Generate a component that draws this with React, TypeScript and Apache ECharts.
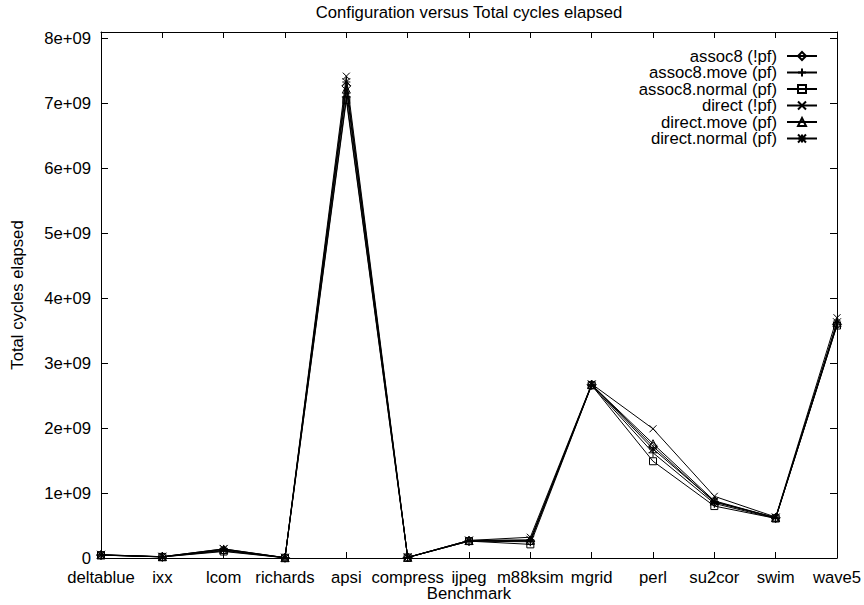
import React, { useEffect, useRef } from "react";
import * as echarts from "echarts";

const categories = ["deltablue", "ixx", "lcom", "richards", "apsi", "compress", "ijpeg", "m88ksim", "mgrid", "perl", "su2cor", "swim", "wave5"];

const seriesNames = ["assoc8 (!pf)", "assoc8.move (pf)", "assoc8.normal (pf)", "direct (!pf)", "direct.move (pf)", "direct.normal (pf)"];

// values in units of 1e9 cycles
const assoc8NoPf = [0.045, 0.018, 0.12, 0.004, 7.27, 0.008, 0.26, 0.26, 2.67, 1.72, 0.86, 0.62, 3.60];
const assoc8Move = [0.045, 0.017, 0.11, 0.004, 7.10, 0.008, 0.26, 0.25, 2.66, 1.62, 0.84, 0.61, 3.59];
const assoc8Normal = [0.044, 0.017, 0.10, 0.004, 7.05, 0.008, 0.26, 0.21, 2.66, 1.49, 0.80, 0.61, 3.58];
const directNoPf = [0.05, 0.02, 0.14, 0.005, 7.42, 0.01, 0.27, 0.32, 2.68, 1.99, 0.95, 0.63, 3.70];
const directMove = [0.048, 0.019, 0.13, 0.005, 7.22, 0.009, 0.27, 0.27, 2.67, 1.76, 0.88, 0.62, 3.62];
const directNormal = [0.05, 0.02, 0.14, 0.005, 7.33, 0.01, 0.27, 0.28, 2.67, 1.68, 0.87, 0.62, 3.63];

const yTickStep = 1e9;
const yMax = 8.1e9;

const FONT = "Liberation Sans, Arial, Helvetica, sans-serif";
const FS = 16.7;

const symbols = [
  { symbol: "diamond", size: 9 },
  { symbol: "path://M5,0L5,10M0,5L10,5", size: 9 },
  { symbol: "rect", size: 7 },
  { symbol: "path://M0,0L10,10M10,0L0,10", size: 7 },
  { symbol: "triangle", size: 8 },
  { symbol: "path://M5,0L5,10M0,5L10,5M0,0L10,10M10,0L0,10", size: 8 },
];

export default function App() {
  const ref = useRef<HTMLDivElement>(null);
  useEffect(() => {
    if (!ref.current) return;
    const chart = echarts.init(ref.current, null, { renderer: "svg" });
    const allValues = [assoc8NoPf, assoc8Move, assoc8Normal, directNoPf, directMove, directNormal];

    const series = seriesNames.map((name, i) => ({
      name,
      type: "line",
      data: allValues[i].map((v) => v * 1e9),
      xAxisIndex: 0,
      yAxisIndex: 0,
      symbol: symbols[i].symbol,
      symbolSize: symbols[i].size,
      showSymbol: true,
      lineStyle: { color: "#000", width: 1 },
      itemStyle: { color: "transparent", borderColor: "#000", borderWidth: 1 },
      emphasis: { disabled: true },
      silent: true,
    }));

    const legendTop0 = 55.5;
    const legendStep = 16.5;
    const legends = seriesNames.map((name, i) => ({
      data: [name],
      orient: "vertical",
      align: "right",
      right: 46,
      top: legendTop0 + i * legendStep - 8,
      itemWidth: 30,
      itemHeight: 10,
      padding: 0,
      selectedMode: false,
      textStyle: { fontSize: FS, color: "#000", fontFamily: FONT, lineHeight: 16, padding: [0, 5, 0, 0] },
    }));

    const fmtY = (v: number) => {
      if (v === 0) return "0";
      const k = v / 1e9;
      if (Math.abs(k - Math.round(k)) > 1e-6) return "";
      return Math.round(k) + "e+09";
    };

    chart.setOption({
      animation: false,
      backgroundColor: "#fff",
      title: {
        text: "Configuration versus Total cycles elapsed",
        left: 469,
        textAlign: "center",
        top: 4,
        padding: 0,
        textStyle: { fontSize: FS, fontWeight: "normal", color: "#000", fontFamily: FONT },
      },
      legend: legends,
      grid: { left: 101, right: 27, top: 32, bottom: 47, containLabel: false, outerBoundsMode: "none" },
      xAxis: [
        {
          type: "category",
          data: categories,
          boundaryGap: false,
          position: "bottom",
          name: "Benchmark",
          nameLocation: "middle",
          nameGap: 26.5,
          nameMoveOverlap: false,
          nameTextStyle: { fontSize: FS, color: "#000", fontFamily: FONT },
          axisLine: { show: true, onZero: false, lineStyle: { color: "#000", width: 1 } },
          axisTick: { show: true, inside: true, length: 6, interval: 0, lineStyle: { color: "#000" } },
          axisLabel: { show: true, interval: 0, margin: 11, fontSize: FS, color: "#000", fontFamily: FONT },
          splitLine: { show: false },
        },
        {
          type: "category",
          data: categories,
          boundaryGap: false,
          position: "top",
          axisLine: { show: true, onZero: false, lineStyle: { color: "#000", width: 1 } },
          axisTick: { show: true, inside: true, length: 6, interval: 0, lineStyle: { color: "#000" } },
          axisLabel: { show: false },
          splitLine: { show: false },
        },
      ],
      yAxis: [
        {
          type: "value",
          min: 0,
          max: yMax,
          interval: yTickStep,
          position: "left",
          name: "Total cycles elapsed",
          nameLocation: "middle",
          nameGap: 75,
          nameMoveOverlap: false,
          nameTextStyle: { fontSize: FS, color: "#000", fontFamily: FONT },
          axisLine: { show: true, onZero: false, lineStyle: { color: "#000", width: 1 } },
          axisTick: { show: true, inside: true, length: 7, lineStyle: { color: "#000" } },
          axisLabel: { show: true, margin: 10, fontSize: FS, color: "#000", fontFamily: FONT, formatter: fmtY, showMaxLabel: false },
          splitLine: { show: false },
        },
        {
          type: "value",
          min: 0,
          max: yMax,
          interval: yTickStep,
          position: "right",
          axisLine: { show: true, onZero: false, lineStyle: { color: "#000", width: 1 } },
          axisTick: { show: true, inside: true, length: 7, lineStyle: { color: "#000" } },
          axisLabel: { show: false },
          splitLine: { show: false },
        },
      ],
      series,
    });
    return () => chart.dispose();
  }, []);
  return <div ref={ref} style={{ position: "fixed", left: 0, top: 0, width: 864, height: 605 }} />;
}
